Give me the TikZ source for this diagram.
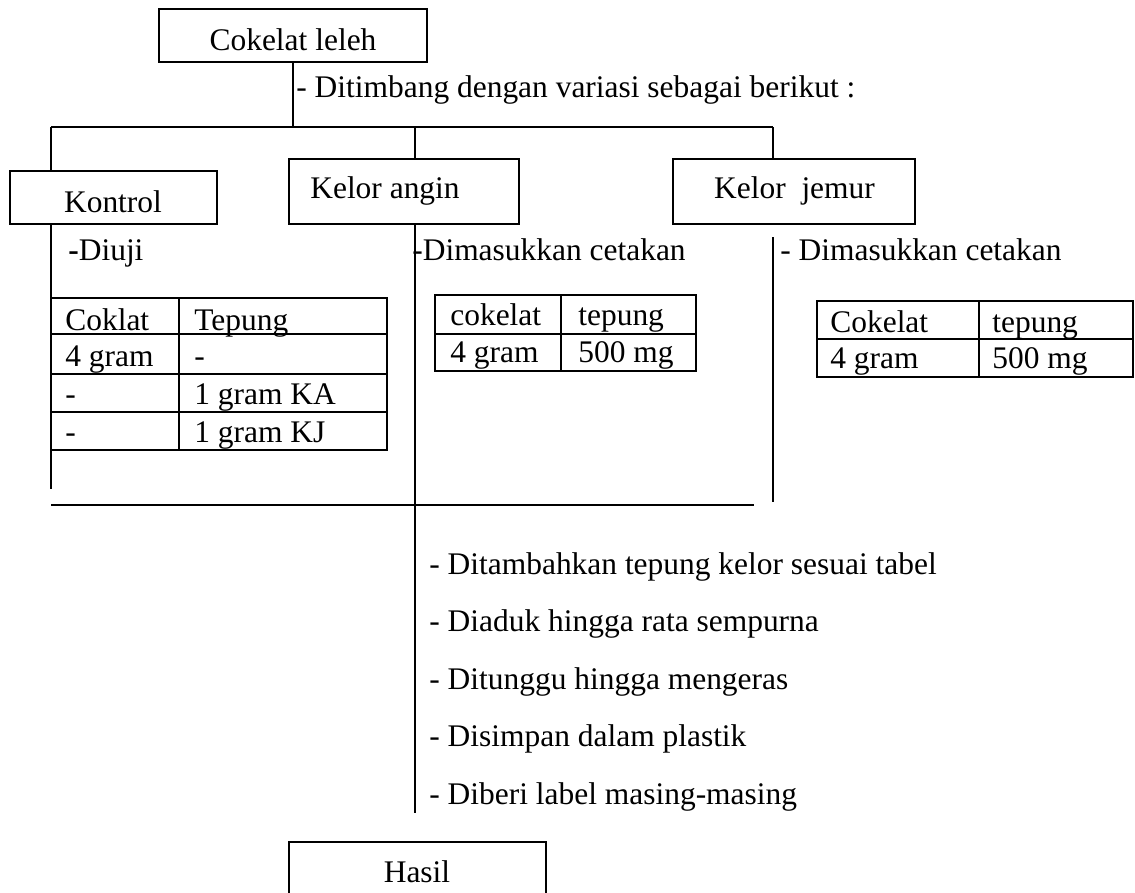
\documentclass[tikz,border=0pt]{standalone}
\usepackage{fontspec}
\setmainfont{Liberation Serif}
\usepackage{tikz}

\begin{document}
\begin{tikzpicture}[x=0.02cm,y=-0.02cm,
    box/.style={draw,line width=1.1pt,inner sep=0pt},
    txt/.style={anchor=base west,inner sep=0pt},
    ctr/.style={anchor=base,inner sep=0pt},
    tab/.style={line width=1.1pt},
    font=\fontsize{17.9pt}{21pt}\selectfont]
    \useasboundingbox (0,0) rectangle (1135,892);

    % Define the boxes
    \node[box,minimum width=5.36cm,minimum height=1.06cm] (cok) at (293,35.5) {};
    \node[box,minimum width=4.14cm,minimum height=1.06cm] (kontrol) at (113.5,197.5) {};
    \node[box,minimum width=4.6cm,minimum height=1.3cm] (angin) at (404,191.5) {};
    \node[box,minimum width=4.84cm,minimum height=1.3cm] (jemur) at (794,191.5) {};
    \node[box,minimum width=5.14cm,minimum height=1.06cm] (hasil) at (417.5,868.5) {};

    % Box texts
    \node[ctr] (tcok) at (293,51) {Cokelat leleh};
    \node[ctr] (tkontrol) at (113,212) {Kontrol};
    \node[ctr] (tangin) at (385,198) {Kelor angin};
    \node[ctr] (tjemur) at (794.5,198) {Kelor\ \ jemur};
    \node[ctr] (thasil) at (417,882) {Hasil};

    % Define the branch points
    \coordinate (split) at (cok.south |- 0,127);
    \coordinate (bK) at (51,127);
    \coordinate (bA) at (415,127);
    \coordinate (bJ) at (773,127);
    \coordinate (endK) at (51,489);
    \coordinate (endA) at (415,813);
    \coordinate (topJ) at (773,237);
    \coordinate (endJ) at (773,502);
    \coordinate (joinL) at (51,505);
    \coordinate (joinR) at (754,505);

    % Draw the connectors
    \draw[line width=0.9pt] (cok.south) -- (split);
    \draw[line width=0.9pt] (bK) -- (bJ);
    \draw[line width=0.9pt] (bK) -- (bK |- kontrol.north);
    \draw[line width=0.9pt] (bA) -- (bA |- angin.north);
    \draw[line width=0.9pt] (bJ) -- (bJ |- jemur.north);
    \draw[line width=0.9pt] (bK |- kontrol.south) -- (endK);
    \draw[line width=0.9pt] (bA |- angin.south) -- (endA);
    \draw[line width=0.9pt] (topJ) -- (endJ);
    \draw[line width=0.9pt] (joinL) -- (joinR);

    % Step texts
    \node[txt] (weigh) at (296,97) {- Ditimbang dengan variasi sebagai berikut :};
    \node[txt] (uji) at (68,260) {\textbf{-}Diuji};
    \node[txt] (cetakA) at (412,260) {-Dimasukkan cetakan};
    \node[txt] (cetakJ) at (780,260) {- Dimasukkan cetakan};
    \foreach \t [count=\i from 0] in {Ditambahkan tepung kelor sesuai tabel,
        Diaduk hingga rata sempurna,Ditunggu hingga mengeras,
        Disimpan dalam plastik,Diberi label masing-masing}
        \node[txt] (step\i) at (429,574+57.5*\i) {- \t};

    % Table of Kontrol
    \draw[tab] (51,298) rectangle (387,450);
    \draw[tab] (179,298) -- (179,450);
    \foreach \y in {334,374,412}
        \draw[tab] (51,\y) -- (387,\y);
    \node[txt] at (65,330) {Coklat};
    \node[txt] at (194,330) {Tepung};
    \node[txt] at (65,366) {4 gram};
    \node[txt] at (194,366) {-};
    \node[txt] at (65,404) {-};
    \node[txt] at (194,404) {1 gram KA};
    \node[txt] at (65,442) {-};
    \node[txt] at (194,442) {1 gram KJ};

    % Table of Kelor angin
    \draw[tab] (435,295) rectangle (696,371);
    \draw[tab] (561,295) -- (561,371);
    \draw[tab] (435,334) -- (696,334);
    \node[txt] at (450,325) {cokelat};
    \node[txt] at (578,325) {tepung};
    \node[txt] at (450,362) {4 gram};
    \node[txt] at (578,362) {500 mg};

    % Table of Kelor jemur
    \draw[tab] (817,301) rectangle (1133,377);
    \draw[tab] (979,301) -- (979,377);
    \draw[tab] (817,339) -- (1133,339);
    \node[txt] at (830,332) {Cokelat};
    \node[txt] at (992,332) {tepung};
    \node[txt] at (830,368) {4 gram};
    \node[txt] at (992,368) {500 mg};
\end{tikzpicture}
\end{document}
